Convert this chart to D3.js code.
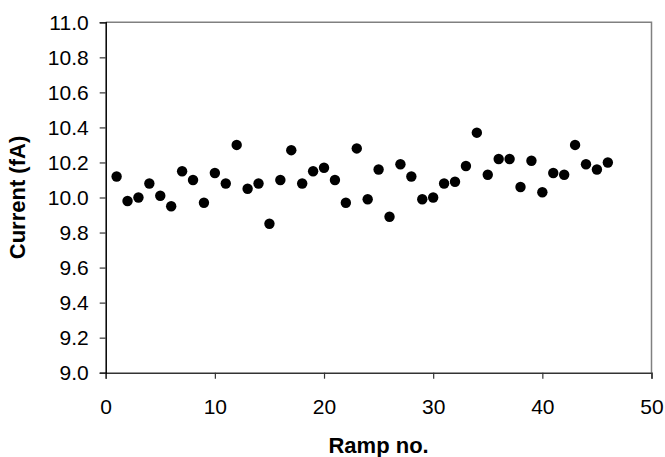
<!DOCTYPE html>
<html>
<head>
<meta charset="utf-8">
<script src="https://cdn.jsdelivr.net/npm/d3@7"></script>
<style>
  body { margin: 0; background: #fff; }
  text { font-family: "Liberation Sans", Arial, sans-serif; }
</style>
</head>
<body>
<svg id="chart" width="665" height="457"></svg>
<script>
// Ramp numbers and measured current (fA)
const rampNo = d3.range(1, 47);
const current = [
  10.12, 9.98, 10.00, 10.08, 10.01, 9.95, 10.15, 10.10, 9.97, 10.14,
  10.08, 10.30, 10.05, 10.08, 9.85, 10.10, 10.27, 10.08, 10.15, 10.17,
  10.10, 9.97, 10.28, 9.99, 10.16, 9.89, 10.19, 10.12, 9.99, 10.00,
  10.08, 10.09, 10.18, 10.37, 10.13, 10.22, 10.22, 10.06, 10.21, 10.03,
  10.14, 10.13, 10.30, 10.19, 10.16, 10.20
];
const xTicks = [0, 10, 20, 30, 40, 50];
const yTicks = [9.0, 9.2, 9.4, 9.6, 9.8, 10.0, 10.2, 10.4, 10.6, 10.8, 11.0];

const margin = { top: 22.3, right: 13.5, bottom: 84.3, left: 105.7 };
const W = 665, H = 457;

const svg = d3.select("#chart");

const x = d3.scaleLinear().domain([0, 50]).range([margin.left, W - margin.right]);
const y = d3.scaleLinear().domain([9, 11]).range([H - margin.bottom, margin.top]);

// frame (top and right in grey)
svg.append("path")
    .attr("d", `M${x(0)},${y(11)}H${x(50)}V${y(9)}`)
    .attr("fill", "none")
    .attr("stroke", "#808080")
    .attr("stroke-width", 1.5);

// x axis
const xAxis = svg.append("g")
    .attr("transform", `translate(0,${y(9)})`)
    .call(d3.axisBottom(x).tickValues(xTicks).tickSize(6).tickPadding(20).tickFormat(d3.format("d")));
xAxis.select(".domain").attr("stroke", "#333").attr("stroke-width", 1.5);
xAxis.selectAll(".tick line").attr("stroke", "#333").attr("stroke-width", 1.2);
xAxis.selectAll("text").style("font-size", "21px").attr("fill", "#000");

// y axis
const yAxis = svg.append("g")
    .attr("transform", `translate(${x(0)},0)`)
    .call(d3.axisLeft(y).tickValues(yTicks).tickSize(6).tickPadding(11).tickFormat(d3.format(".1f")));
yAxis.select(".domain").attr("stroke", "#000").attr("stroke-width", 1.5);
yAxis.selectAll(".tick line").attr("stroke", "#333").attr("stroke-width", 1.2);
yAxis.selectAll("text").style("font-size", "21px").attr("fill", "#000");

// points
svg.append("g")
    .selectAll("circle")
    .data(rampNo)
    .enter().append("circle")
    .attr("cx", d => x(d))
    .attr("cy", (d, i) => y(current[i]))
    .attr("r", 5.2)
    .attr("fill", "#000");

// axis titles
svg.append("text")
    .attr("x", (x(0) + x(50)) / 2)
    .attr("y", 452.5)
    .attr("text-anchor", "middle")
    .style("font-size", "22px")
    .style("font-weight", "bold")
    .text("Ramp no.");

svg.append("text")
    .attr("transform", `translate(25,${(y(9) + y(11)) / 2}) rotate(-90)`)
    .attr("text-anchor", "middle")
    .style("font-size", "22px")
    .style("font-weight", "bold")
    .text("Current (fA)");
</script>
</body>
</html>
